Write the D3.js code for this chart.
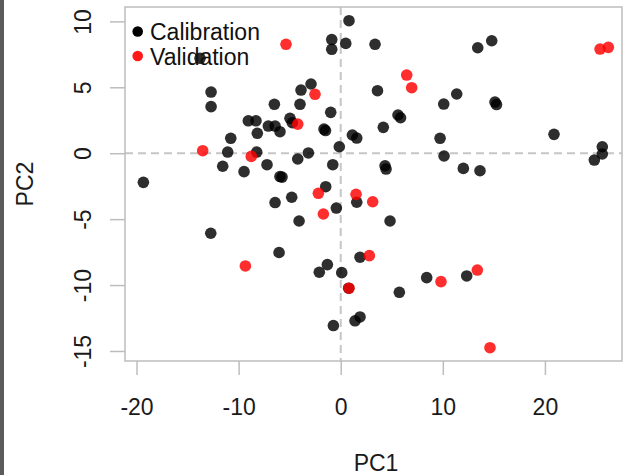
<!DOCTYPE html>
<html>
<head>
<meta charset="utf-8">
<script src="https://cdn.jsdelivr.net/npm/d3@7"></script>
<style>
  body { margin: 0; background: #fff; }
  svg { display: block; }
  text { font-family: "Liberation Sans", Arial, Helvetica, sans-serif; }
</style>
</head>
<body>
<svg id="chart" width="623" height="475"></svg>
<script>
// PCA scores, first two components
const calibrationPC1 = [-13.78, -12.70, -12.70, -6.50, -2.91, -3.89, -3.99, -0.98, -9.05, -8.30,
  -7.09, -6.43, -5.95, -4.97, -4.74, -8.17, -1.64, -1.49, -10.77, -11.07,
  -8.23, -11.56, -9.47, -7.22, -5.95, -5.75, -4.21, -3.17, -0.78, -0.14,
  -19.33, -4.80, -6.43, -4.08, -12.73, -6.04, -1.47, -0.43, -1.31, -2.10,
  0.10, 1.89, 5.74, 8.42, 12.34, -0.72, 1.40, 1.89, 1.57, 4.83,
  0.81, -0.88, -0.88, 0.49, 3.36, 13.42, 14.79, 3.60, 11.36, 10.09,
  15.11, 15.26, 5.61, 5.86, 4.17, 1.14, 1.57, 9.73, 10.12, 20.89,
  25.62, 25.62, 24.84, 12.01, 13.64, 4.34, 4.44, 0.78];
const calibrationPC2 = [7.20, 4.64, 3.53, 3.71, 5.25, 4.79, 3.71, 3.10, 2.46, 2.46,
  2.06, 2.06, 1.63, 2.65, 2.31, 1.51, 1.83, 1.72, 1.13, 0.09,
  0.09, -0.99, -1.40, -0.87, -1.77, -1.81, -0.44, 0.02, -0.87, 0.49,
  -2.21, -3.34, -3.74, -5.14, -6.07, -7.53, -2.54, -4.16, -8.45, -9.03,
  -9.06, -7.89, -10.55, -9.44, -9.31, -13.07, -12.71, -12.42, -3.72, -5.14,
  10.05, 8.62, 7.88, 8.33, 8.26, 8.00, 8.53, 4.74, 4.49, 3.73,
  3.88, 3.69, 2.90, 2.69, 1.96, 1.38, 1.15, 1.13, -0.21, 1.43,
  0.49, -0.06, -0.52, -1.15, -1.33, -0.95, -1.20, -10.24];

const validationPC1 = [-5.36, -2.52, -4.21, -13.52, -8.76, -2.19, -1.70, 1.50, 3.13, -9.34,
  2.80, 0.81, 9.82, 13.38, 14.62, 6.46, 6.95, 25.40, 26.21];
const validationPC2 = [8.26, 4.47, 2.21, 0.19, -0.24, -3.04, -4.61, -3.12, -3.68, -8.55,
  -7.77, -10.24, -9.74, -8.86, -14.75, 5.93, 4.97, 7.90, 8.03];

const xTicks = [-20, -10, 0, 10, 20];
const yTicks = [-15, -10, -5, 0, 5, 10];
const legendLabels = ["Calibration", "Validation"];
const seriesColors = ["rgba(0,0,0,0.82)", "rgba(255,0,0,0.82)"];
const xTitle = "PC1";
const yTitle = "PC2";

const plot = { left: 125, right: 622, top: 7, bottom: 361 };
const axisGrey = "#bdbdbd";
const fontSize = 23;
// plain hyphen-minus for negative tick labels
const tickText = d => String(d);

const svg = d3.select("#chart");
svg.append("rect").attr("width", 623).attr("height", 475).attr("fill", "#fff");
// dark strip along the window's left edge
svg.append("rect").attr("x", 0).attr("y", 0).attr("width", 4).attr("height", 475).attr("fill", "#5b5b5b");

const x = d3.scaleLinear().domain([-21.13, 27.55]).range([plot.left, plot.right]);
const y = d3.scaleLinear().domain([-15.76, 11.09]).range([plot.bottom, plot.top]);

// zero reference lines
const zeroGroup = svg.append("g")
  .attr("stroke", "#c6c6c6").attr("stroke-width", 2).attr("stroke-dasharray", "8,5");
zeroGroup.append("line")
  .attr("x1", x(0)).attr("x2", x(0)).attr("y1", plot.top).attr("y2", plot.bottom);
zeroGroup.append("line")
  .attr("x1", plot.left).attr("x2", plot.right).attr("y1", y(0)).attr("y2", y(0));

// plot frame
svg.append("rect")
  .attr("x", plot.left).attr("y", plot.top)
  .attr("width", plot.right - plot.left).attr("height", plot.bottom - plot.top)
  .attr("fill", "none").attr("stroke", axisGrey).attr("stroke-width", 1.5);

// x axis
const gx = svg.append("g")
  .attr("transform", `translate(0,${plot.bottom})`)
  .call(d3.axisBottom(x).tickValues(xTicks).tickSize(14).tickFormat(tickText));
gx.select(".domain").remove();
gx.selectAll(".tick line").attr("stroke", axisGrey).attr("stroke-width", 1.5);
gx.selectAll(".tick text")
  .attr("font-size", fontSize).attr("fill", "#1a1a1a")
  .attr("font-family", "Liberation Sans, Arial, sans-serif")
  .attr("dy", null).attr("y", 53.5);

// y axis with rotated labels
const gy = svg.append("g")
  .attr("transform", `translate(${plot.left},0)`)
  .call(d3.axisLeft(y).tickValues(yTicks).tickSize(15).tickFormat(tickText));
gy.select(".domain").remove();
gy.selectAll(".tick line").attr("stroke", axisGrey).attr("stroke-width", 1.5);
gy.selectAll(".tick text")
  .attr("font-size", fontSize).attr("fill", "#1a1a1a")
  .attr("font-family", "Liberation Sans, Arial, sans-serif")
  .attr("x", null).attr("dy", null)
  .attr("text-anchor", "middle")
  .attr("transform", "translate(-34.5,0) rotate(-90)");

// axis titles
svg.append("text")
  .attr("x", (plot.left + 627) / 2).attr("y", 470.5)
  .attr("text-anchor", "middle").attr("font-size", fontSize).attr("fill", "#1a1a1a")
  .text(xTitle);
svg.append("text")
  .attr("transform", `translate(33,${(plot.top + plot.bottom) / 2}) rotate(-90)`)
  .attr("text-anchor", "middle").attr("font-size", fontSize).attr("fill", "#1a1a1a")
  .text(yTitle);

// points: calibration first, validation on top
const calibration = calibrationPC1.map((v, i) => ({ pc1: v, pc2: calibrationPC2[i] }));
const validation = validationPC1.map((v, i) => ({ pc1: v, pc2: validationPC2[i] }));

svg.append("clipPath").attr("id", "plot-clip").append("rect")
  .attr("x", plot.left).attr("y", plot.top)
  .attr("width", plot.right - plot.left).attr("height", plot.bottom - plot.top);

const pts = svg.append("g").attr("clip-path", "url(#plot-clip)");
pts.selectAll("circle.cal").data(calibration).join("circle")
  .attr("class", "cal")
  .attr("cx", d => x(d.pc1)).attr("cy", d => y(d.pc2)).attr("r", 5.8)
  .attr("fill", seriesColors[0]);
pts.selectAll("circle.val").data(validation).join("circle")
  .attr("class", "val")
  .attr("cx", d => x(d.pc1)).attr("cy", d => y(d.pc2)).attr("r", 5.8)
  .attr("fill", seriesColors[1]);

// legend
const legend = svg.append("g");
legendLabels.forEach((label, i) => {
  const cy = 31.5 + i * 24.5;
  legend.append("circle").attr("cx", 137.7).attr("cy", cy).attr("r", 5.3)
    .attr("fill", i === 0 ? "#000" : "#ff1a1a");
  legend.append("text").attr("x", 150).attr("y", cy + 8.6)
    .attr("font-size", fontSize).attr("fill", "#111").text(label);
});
</script>
</body>
</html>
